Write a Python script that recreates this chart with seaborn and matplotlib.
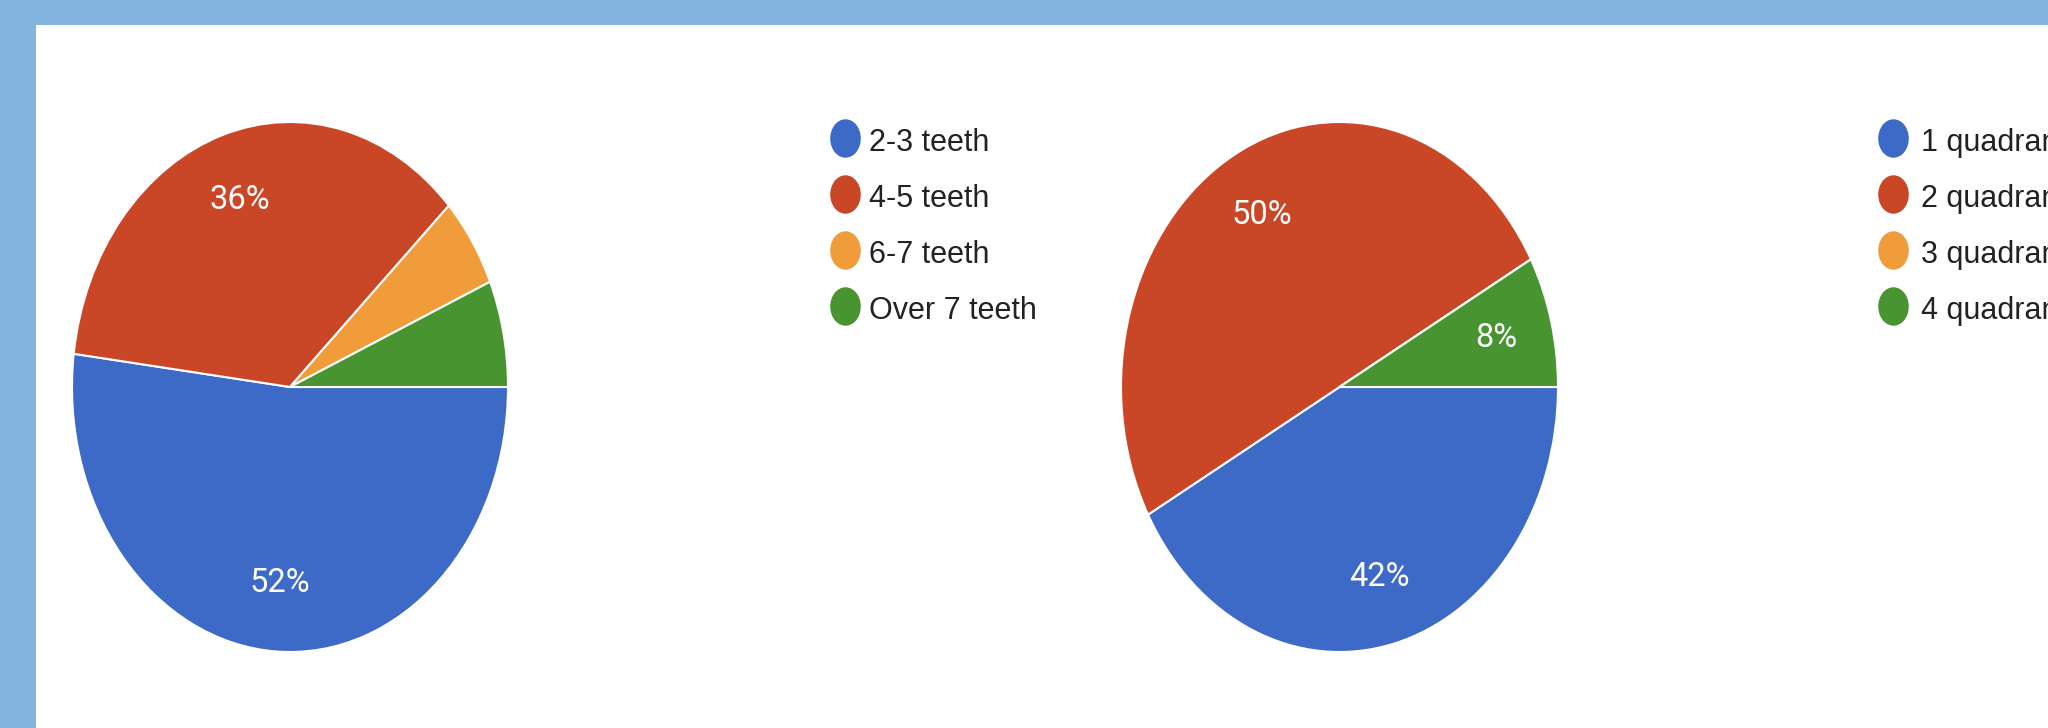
import matplotlib
matplotlib.use("Agg")
import matplotlib.pyplot as plt
import seaborn as sns
from matplotlib.lines import Line2D
from matplotlib.markers import MarkerStyle
from matplotlib.patches import Rectangle
from matplotlib.transforms import Affine2D

# ---- data ----
teeth_labels = ["2-3 teeth", "4-5 teeth", "6-7 teeth", "Over 7 teeth"]
teeth_values = [52, 36, 5.5, 6.5]
quad_labels = ["1 quadrant", "2 quadrants", "3 quadrants", "4 quadrants"]
quad_values = [42, 50, 0, 8]
slice_colors = ["#3D69C7", "#C94726", "#F09C3A", "#489430"]

sns.set_theme(style="white")
palette = sns.color_palette(slice_colors)

W, H = 2048, 728
fig = plt.figure(figsize=(W / 100, H / 100), dpi=100)
fig.patch.set_facecolor("#84B4E0")
fig.add_artist(Rectangle((36 / W, 0), 1, 1 - 25 / H, transform=fig.transFigure,
                         facecolor="white", edgecolor="none", zorder=0))


def box(x0, y0, x1, y1):
    return [x0 / W, 1 - y1 / H, (x1 - x0) / W, (y1 - y0) / H]


def autopct(p):
    return f"{p:.0f}%" if p >= 7 else ""


for rect, vals in [((72, 122, 508, 652), teeth_values),
                   ((1121, 122, 1558, 652), quad_values)]:
    ax = fig.add_axes(box(*rect))
    ax.pie(vals, colors=palette, startangle=0, counterclock=False,
           autopct=autopct, pctdistance=0.74,
           wedgeprops=dict(edgecolor="white", linewidth=1.5),
           textprops=dict(color="white", fontsize=23.5, family="Roboto"))
    ax.set_aspect("auto")
    ax.set_xlim(-1, 1)
    ax.set_ylim(-1, 1)
    ax.axis("off")

dot = MarkerStyle("o", transform=Affine2D().scale(1, 1.27))
handles = [Line2D([], [], linestyle="none", marker=dot, markersize=21,
                  markerfacecolor=c, markeredgecolor=c) for c in palette]

for labels, ax_x, ax_y, pad in [(teeth_labels, 830, 125, 0.27),
                                (quad_labels, 1878, 125, 0.4)]:
    fig.legend(handles, labels, loc="upper left",
               bbox_to_anchor=(ax_x / W, 1 - ax_y / H), bbox_transform=fig.transFigure,
               frameon=False, borderpad=0, borderaxespad=0, handlelength=1.0,
               handleheight=1.2, handletextpad=pad, labelspacing=0.75,
               prop={"family": "Liberation Sans", "size": 22}, labelcolor="#222222")

fig.savefig("out.png", dpi=100, facecolor=fig.get_facecolor())
